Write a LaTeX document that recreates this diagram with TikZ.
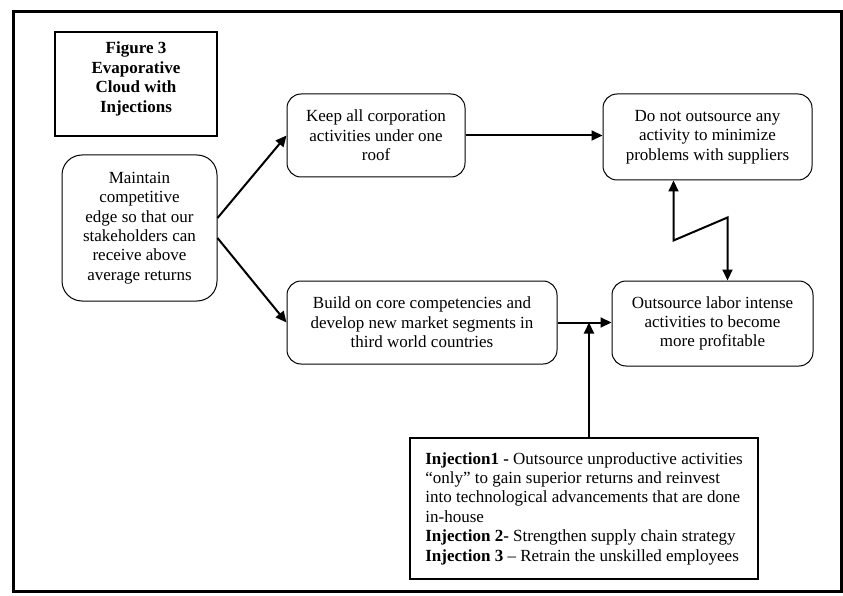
\documentclass[tikz,border=0pt]{standalone}
\usepackage{fontspec}
\setmainfont{Liberation Serif}
\usetikzlibrary{arrows.meta,calc}
\begin{document}
\begin{tikzpicture}[x=1pt,y=-1pt,
  txt/.style={font=\fontsize{17}{19.4}\selectfont, align=center, inner sep=0pt},
  rbox/.style={draw, line width=1pt, rounded corners=14pt, txt},
  sbox/.style={draw, line width=1.2pt, txt},
  arr/.style={line width=2pt, -{Triangle[length=11pt,width=10pt]}},
  darr/.style={line width=2pt, {Triangle[length=11pt,width=10pt]}-{Triangle[length=11pt,width=10pt]}},
]
\useasboundingbox (0,0) rectangle (843,596);
\fill[white] (0,0) rectangle (843,596);
\draw[line width=3pt] (13.5,12) rectangle (841.5,591.5);

\node[sbox, minimum width=162, minimum height=104] (fig) at (136,84) {};
\node[txt, font=\fontsize{17}{19.4}\selectfont\bfseries] (figt) at (136,79) {Figure 3\\Evaporative\\Cloud with\\Injections};

\node[rbox, rounded corners=20pt, minimum width=155, minimum height=146] (m) at (139.5,228) {Maintain\\competitive\\edge so that our\\stakeholders can\\receive above\\average returns};
\node[rbox, minimum width=178, minimum height=83] (k) at (376,135.5) {Keep all corporation\\activities under one\\roof};
\node[rbox, minimum width=209, minimum height=86] (d) at (707.5,137) {Do not outsource any\\activity to minimize\\problems with suppliers};
\node[rbox, minimum width=270, minimum height=83] (b) at (422,322.5) {Build on core competencies and\\develop new market segments in\\third world countries};
\node[rbox, minimum width=201, minimum height=85] (o) at (712.5,323.5) {Outsource labor intense\\activities to become\\more profitable};
\node[sbox, minimum width=348, minimum height=141, align=left] (inj) at (584,508.5) {\textbf{Injection1 -} Outsource unproductive activities\\“only” to gain superior returns and reinvest\\into technological advancements that are done\\in-house\\\textbf{Injection 2-} Strengthen supply chain strategy\\\textbf{Injection 3} – Retrain the unskilled employees};

\draw[arr] ($(m.east)+(0,-10)$) -- (k.west);
\draw[arr] ($(m.east)+(0,10)$) -- (b.west);
\draw[arr] (k.east) -- (k.east -| d.west);
\draw[arr] (b.east) -- (b.east -| o.west);
\coordinate (injtop) at ($(inj.north)+(5,0)$);
\draw[arr] (injtop) -- (injtop |- b.east);
\coordinate (za) at ($(d.south)+(-34,60)$);
\coordinate (zb) at ($(o.north)+(15,-63)$);
\draw[darr] ($(d.south)+(-34,0)$) -- (za) -- (zb) -- ($(o.north)+(15,0)$);
\end{tikzpicture}
\end{document}
